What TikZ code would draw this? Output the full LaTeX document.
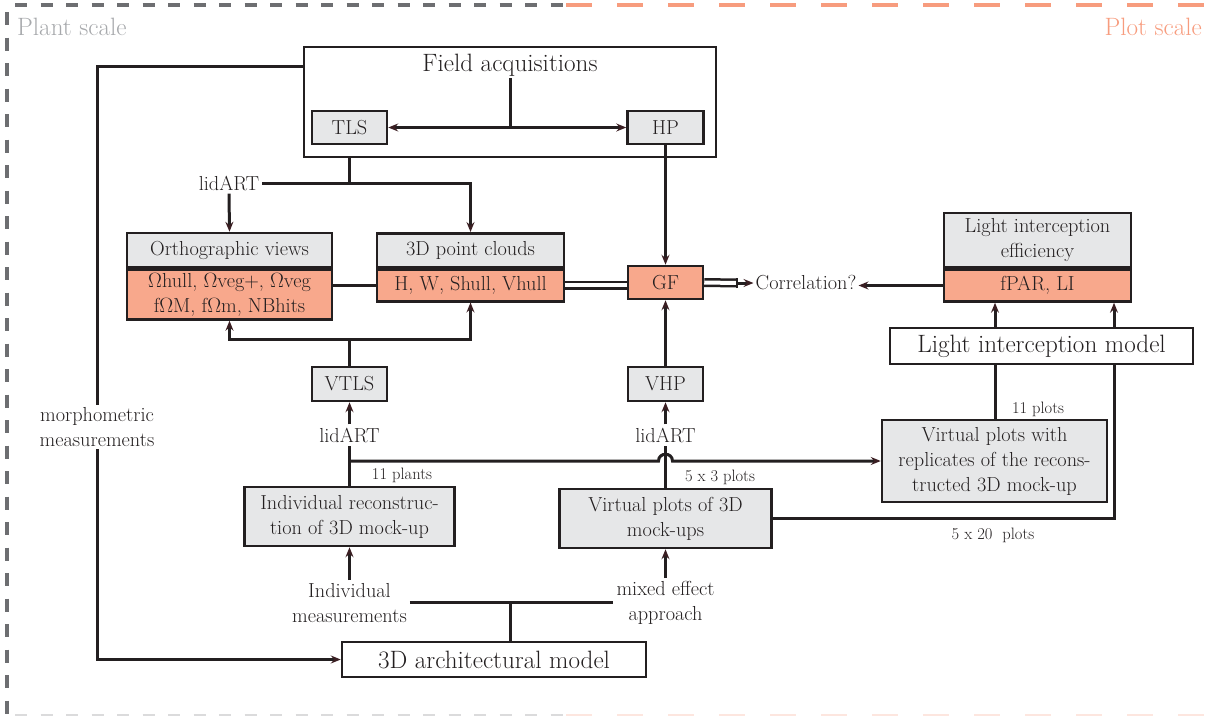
\documentclass[tikz,border=0pt]{standalone}
\usetikzlibrary{arrows.meta,calc}
\definecolor{lin}{HTML}{231F20}
\definecolor{tipc}{HTML}{3A1E22}
\definecolor{hdr}{HTML}{E6E7E8}
\definecolor{sal}{HTML}{F8A88C}
\definecolor{plantc}{HTML}{6D6E71}
\definecolor{planttxt}{HTML}{A7A9AC}
\definecolor{plotc}{HTML}{F79C7E}
\newcommand{\Om}{$\Omega$}
\begin{document}
\begin{tikzpicture}[x=1pt,y=-1pt,
  every node/.style={font=\fontsize{20.3}{25}\selectfont, text=lin},
  bx/.style 2 args={draw=lin, line width=2.5pt, minimum width=#1, minimum height=#2, inner sep=0pt, align=center},
  big/.style={font=\fontsize{25.1}{30}\selectfont},
  small/.style={font=\fontsize{16.5}{19}\selectfont, inner sep=1pt},
  lbl/.style={inner sep=3pt, align=center},
  conn/.style={draw=lin, line width=3pt},
  >={Stealth[length=10pt,width=8pt,inset=3.5pt,color=tipc]},
  dbl/.style={draw=lin, line width=2.5pt, double=white, double distance=4pt}
]
\useasboundingbox (0,0) rectangle (1207,715);

% scale borders
\draw[plantc, line width=3.5pt, dash pattern=on 12pt off 13.5pt] (15,5) -- (566,5);
\draw[plotc, line width=4pt, dash pattern=on 26pt off 25pt] (566,5) -- (1207,5);
\draw[plantc, line width=3.5pt, dash pattern=on 13pt off 12.5pt] (7,12) -- (7,715);
\draw[plantc!25, line width=2pt, dash pattern=on 12pt off 13.5pt] (15,715) -- (566,715);
\draw[plotc!25, line width=2pt, dash pattern=on 26pt off 25pt] (566,715) -- (1207,715);
\node[anchor=base west, text=planttxt, big, inner sep=0pt] (pst) at (17,35) {Plant scale};
\node[anchor=base east, text=plotc, big, inner sep=0pt] (plst) at (1202,35) {Plot scale};

% field acquisitions
\node[bx={412pt}{110pt}] (fa) at (510,102) {};
\node[big, inner sep=2pt] (ft) at (510,65) {Field acquisitions};
\node[bx={75pt}{33pt}, fill=hdr] (tls) at (349.5,127.5) {TLS};
\node[bx={76pt}{33pt}, fill=hdr] (hp) at (665.5,127.5) {HP};

% top lidART
\node[lbl] (l1) at (229,183) {lidART};

% orthographic views
\node[bx={205pt}{34pt}, fill=hdr] (orh) at (229.5,250) {Orthographic views};
\node[bx={205pt}{50pt}, fill=sal, anchor=north] (orb) at (orh.south) {\Om hull, \Om veg+, \Om veg\\f\Om M, f\Om m, NBhits};

% 3D point clouds
\node[bx={187pt}{33.5pt}, fill=hdr] (pch) at (470.5,250) {3D point clouds};
\node[bx={187pt}{32pt}, fill=sal, anchor=north] (pcb) at (pch.south) {H, W, Shull, Vhull};

% GF and correlation
\node[bx={75pt}{33pt}, fill=sal] (gf) at (665.5,282.5) {GF};
\node[inner sep=2pt] (corr) at (806,283) {Correlation?};
\coordinate (c3) at (737,283);

% light interception
\node[bx={187pt}{54pt}, fill=hdr] (lie) at (1037.5,240) {Light interception\\efficiency};
\node[bx={187pt}{32pt}, fill=sal, anchor=north] (lieb) at (lie.south) {fPAR, LI};
\node[bx={303pt}{36pt}, big] (lim) at (1041.5,346) {Light interception model};
\node[bx={225pt}{82pt}, fill=hdr] (vpr) at (994.5,461) {Virtual plots with\\replicates of the recons-\\tructed 3D mock-up};

% virtual scanners
\node[bx={75pt}{34pt}, fill=hdr] (vtls) at (349.5,384) {VTLS};
\node[bx={75pt}{34pt}, fill=hdr] (vhp) at (665.5,384) {VHP};
\node[lbl] (l2) at (349.5,435) {lidART};
\node[lbl] (l3) at (665.5,435) {lidART};

% reconstructions
\node[bx={210pt}{59pt}, fill=hdr] (ir) at (349.5,516.5) {Individual reconstruc-\\tion of 3D mock-up};
\node[bx={212pt}{59pt}, fill=hdr] (vp3d) at (665.5,518.5) {Virtual plots of 3D\\mock-ups};

% bottom
\node[lbl, inner sep=3pt] (im) at (349.5,603) {Individual\\measurements};
\node[lbl, inner sep=3pt] (me) at (665.5,603) {mixed effect\\approach};
\node[bx={304pt}{35pt}, big] (am) at (494,659.5) {3D architectural model};

% coordinates
\coordinate (c1) at (97,66);
\coordinate (c2) at (349.5,339);
\coordinate (c4) at (995,0);
\coordinate (c5) at (1114,0);
\coordinate (c6) at (349.5,461);
\coordinate (c7) at (510,602);
\coordinate (h) at (vp3d.north |- c6);

% connectors
\draw[conn] (ft.south) -- (ft.south |- tls.east);
\draw[conn, <->] (tls.east) -- (hp.west);
\draw[conn, ->] (fa.west |- c1) -- (c1) |- (am.west);
\node[lbl, fill=white, inner sep=2pt] (morph) at (97,427) {morphometric\\measurements};

\draw[conn] (fa.south -| tls) -- (l1 -| tls);
\draw[conn, ->] (l1.east) -| (pch.north);
\draw[conn, ->] (l1.south) -- (orh.north);
\draw[conn] (orb.east |- pcb.west) -- (pcb.west);
\draw[conn] (vtls.north) -- (c2);
\draw[conn, ->] (c2) -| (orb.south);
\draw[conn, ->] (c2) -| (pcb.south);

\draw[dbl] (pcb.east) -- (gf.west |- pcb.east);
\draw[dbl] (gf.east) -- (c3);
\draw[conn, line width=2.5pt] ([yshift=-5.2pt]c3) -- ([yshift=5.2pt]c3);
\draw[conn, ->] (c3) -- (corr.west);
\draw[conn, ->] (lieb.west) -- (corr.east |- lieb.west);

\draw[conn, ->] (hp.south) -- (gf.north);
\draw[conn, ->] (vhp.north) -- (gf.south);

\draw[conn, ->] (lim.north -| c4) -- (lieb.south -| c4);
\draw[conn, ->] (lim.north -| c5) -- (lieb.south -| c5);
\draw[conn] (lim.south -| c4) -- (vpr.north -| c4);
\draw[conn] (lim.south -| c5) |- (vp3d.east);

\draw[conn, ->] (l2.north) -- (vtls.south);
\draw[conn, ->] (l3.north) -- (vhp.south);
\draw[conn] (ir.north) -- (l2.south);
\draw[conn] (vp3d.north) -- (l3.south);
\draw[conn, ->] (c6) -- ([xshift=-7pt]h) .. controls +(0,-9) and +(0,-9) .. ([xshift=7pt]h) -- (vpr.west);

\draw[conn, ->] (im.north) -- (ir.south);
\draw[conn, ->] (me.north) -- (vp3d.south);
\draw[conn] (im.east |- c7) -- (me.west |- c7);
\draw[conn] (c7) -- (c7 |- am.north);

% small labels
\node[small] (lab1) at (402,475) {11 plants};
\node[small] (lab2) at (720,477) {5 x 3 plots};
\node[small] (lab3) at (1038,409) {11 plots};
\node[small] (lab4) at (993,535) {5 x 20\ \ plots};
\end{tikzpicture}
\end{document}
